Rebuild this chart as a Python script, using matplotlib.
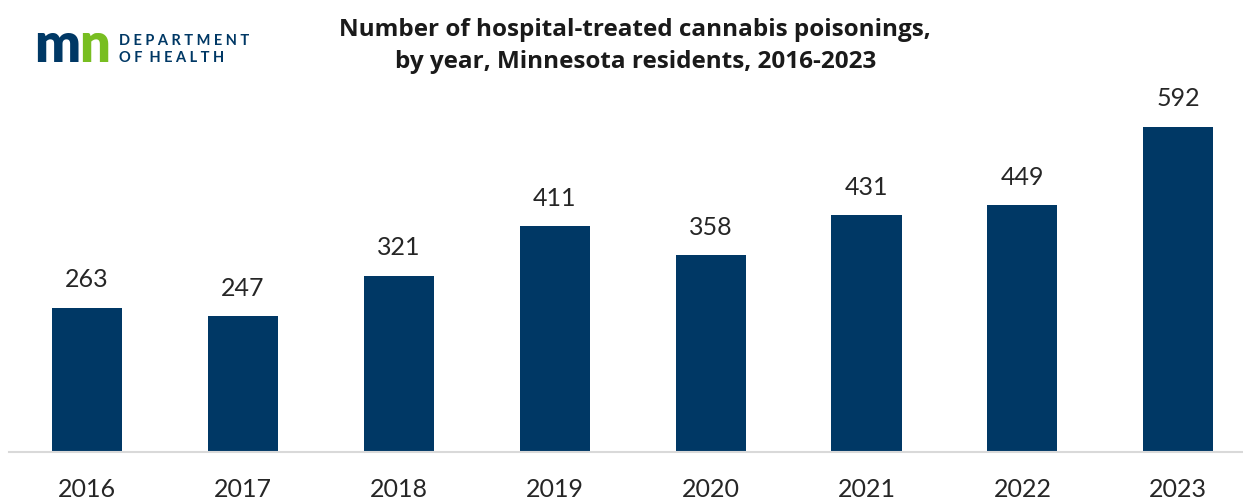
import matplotlib
matplotlib.use('Agg')
import matplotlib.pyplot as plt

years = ['2016', '2017', '2018', '2019', '2020', '2021', '2022', '2023']
poisonings = [263, 247, 321, 411, 358, 431, 449, 592]

bar_color = '#003865'
mdh_green = '#78be21'

plt.rcParams['font.family'] = ['Lato', 'DejaVu Sans']

fig = plt.figure(figsize=(12.43, 4.99), dpi=100)
ax = fig.add_axes([0, 47 / 499, 1, 452 / 499])

x = range(len(years))
bars = ax.bar(x, poisonings, width=0.45, color=bar_color)

for xi, v in zip(x, poisonings):
    ax.annotate(str(v), (xi, v), xytext=(0, 12), textcoords='offset points',
                ha='center', va='bottom', fontsize=18, color='#262626')

ax.set_xlim(-0.558, 7.415)
ax.set_ylim(0, 823)
ax.set_xticks(list(x))
ax.set_xticklabels(years, fontsize=18, color='#262626')
ax.tick_params(axis='x', length=0, pad=19)
ax.set_yticks([])
for s in ['top', 'right', 'left']:
    ax.spines[s].set_visible(False)
ax.spines['bottom'].set_color('#d9d9d9')
ax.spines['bottom'].set_linewidth(1.5)
ax.spines['bottom'].set_bounds(-0.558 + 9 / 156, 7.415)

fig.text(0.511, 0.963, 'Number of hospital-treated cannabis poisonings,\nby year, Minnesota residents, 2016-2023',
         ha='center', va='top', fontsize=17.5, fontweight='bold', color='#1a1a1a',
         linespacing=1.42, family=['Open Sans', 'DejaVu Sans'])

# logo
fig.text(34 / 1243, 1 - 62 / 499, 'm', fontsize=39, fontweight='heavy', color=bar_color,
         ha='left', va='baseline')
fig.text(79 / 1243, 1 - 62 / 499, 'n', fontsize=39, fontweight='heavy', color=mdh_green,
         ha='left', va='baseline')
fig.text(119 / 1243, 1 - 45 / 499, 'D E P A R T M E N T', fontsize=10.5, fontweight='bold',
         color=bar_color, ha='left', va='baseline')
fig.text(119 / 1243, 1 - 62 / 499, 'O F  H E A L T H', fontsize=10.5, fontweight='bold',
         color=bar_color, ha='left', va='baseline')

plt.savefig('out.png', dpi=100)
plt.close()
